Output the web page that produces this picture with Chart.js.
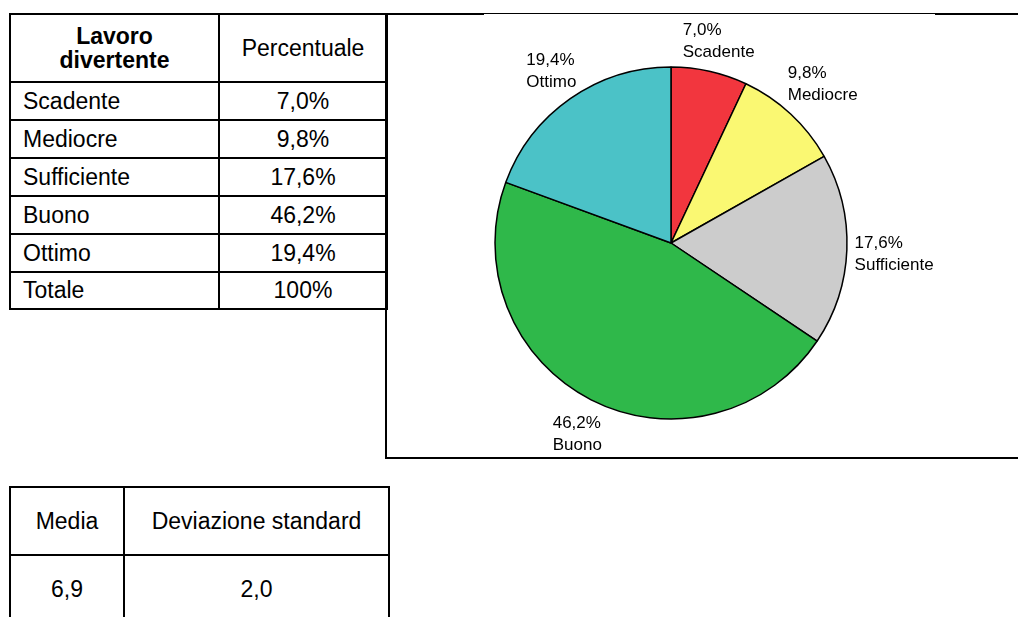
<!DOCTYPE html>
<html>
<head>
<meta charset="utf-8">
<script src="https://cdn.jsdelivr.net/npm/chart.js@4/dist/chart.umd.min.js"></script>
<style>
  html, body { margin: 0; padding: 0; background: #fff; }
  body { width: 1018px; height: 617px; position: relative; overflow: hidden;
         font-family: "Liberation Sans", Arial, sans-serif; color: #000; }
  table { position: absolute; border-collapse: collapse; table-layout: fixed; font-size: 23px; }
  td { border: 2px solid #000; padding: 0; vertical-align: middle; }
  #freqTable { left: 9px; top: 13px; width: 377px; }
  #freqTable td.lbl { padding-left: 12px; text-align: left; }
  #freqTable td.val { text-align: center; }
  #freqTable tr.head td { text-align: center; line-height: 24px; }
  #freqTable tr.head td b { font-weight: bold; }
  #statTable { left: 9px; top: 486px; width: 379px; }
  #statTable td { text-align: center; }
  .line { position: absolute; background: #000; }
  #chartBox { position: absolute; left: 386px; top: 14px; width: 632px; height: 444px; }
  #pie { display: block; width: 632px; height: 444px; }
</style>
</head>
<body>
<table id="freqTable">
  <colgroup><col style="width:209px"><col style="width:168px"></colgroup>
  <tbody id="freqBody"></tbody>
</table>

<table id="statTable">
  <colgroup><col style="width:114px"><col style="width:265px"></colgroup>
  <tbody id="statBody"></tbody>
</table>

<!-- frame round the pie -->
<div class="line" style="left:385px; top:13px; width:2px; height:446px;"></div>
<div class="line" style="left:385px; top:457px; width:633px; height:2px;"></div>
<div class="line" style="left:385px; top:13px; width:99px; height:2px;"></div>
<div class="line" style="left:484px; top:13px; width:451px; height:1px;"></div>
<div class="line" style="left:935px; top:13px; width:83px; height:2px;"></div>

<div id="chartBox"><canvas id="pie" width="632" height="444"></canvas></div>

<script>
// data
const categories = ['Scadente', 'Mediocre', 'Sufficiente', 'Buono', 'Ottimo'];
const percentages = [7.0, 9.8, 17.6, 46.2, 19.4];
const sliceColors = ['#F2363E', '#FAF872', '#CCCCCC', '#2FB84A', '#4BC2C7'];
const headerLabels = ['Lavoro<br>divertente', 'Percentuale'];
const totalLabel = 'Totale';
const totalValue = '100%';
const statLabels = ['Media', 'Deviazione standard'];
const statValues = ['6,9', '2,0'];

const fmtPct = v => v.toFixed(1).replace('.', ',') + '%';

// tables
const freqBody = document.getElementById('freqBody');
let html = '<tr class="head" style="height:68px"><td><b>' + headerLabels[0] + '</b></td><td>' + headerLabels[1] + '</td></tr>';
categories.forEach((c, i) => {
    html += '<tr style="height:38px"><td class="lbl">' + c + '</td><td class="val">' + fmtPct(percentages[i]) + '</td></tr>';
});
html += '<tr style="height:37px"><td class="lbl">' + totalLabel + '</td><td class="val">' + totalValue + '</td></tr>';
freqBody.innerHTML = html;

const statBody = document.getElementById('statBody');
statBody.innerHTML =
    '<tr style="height:68px">' + statLabels.map(s => '<td>' + s + '</td>').join('') + '</tr>' +
    '<tr style="height:68px">' + statValues.map(s => '<td>' + s + '</td>').join('') + '</tr>';

// outside labels: percent on first line, category on second, left aligned block
const outsideLabels = {
    id: 'outsideLabels',
    afterDatasetsDraw(chart) {
        const ctx = chart.ctx;
        const meta = chart.getDatasetMeta(0);
        const lineH = 22;
        ctx.save();
        ctx.font = '17px "Liberation Sans", Arial, sans-serif';
        ctx.fillStyle = '#000';
        ctx.textAlign = 'left';
        ctx.textBaseline = 'middle';
        meta.data.forEach((arc, i) => {
            const p = arc.getProps(['x', 'y', 'startAngle', 'endAngle', 'outerRadius'], true);
            const mid = (p.startAngle + p.endAngle) / 2;
            const ux = Math.cos(mid), uy = Math.sin(mid);
            const lines = [fmtPct(percentages[i]), categories[i]];
            const w = Math.max(...lines.map(t => ctx.measureText(t).width));
            const h = 42;
            const dist = p.outerRadius + 5 + Math.abs(ux) * w / 2 + Math.abs(uy) * h / 2;
            const cx = p.x + ux * dist + 2;
            const cy = p.y + uy * dist + 3;
            ctx.fillText(lines[0], cx - w / 2, cy - lineH / 2);
            ctx.fillText(lines[1], cx - w / 2, cy + lineH / 2);
        });
        ctx.restore();
    }
};

new Chart(document.getElementById('pie'), {
    type: 'pie',
    data: {
        labels: categories,
        datasets: [{
            data: percentages,
            backgroundColor: sliceColors,
            borderColor: '#000',
            borderWidth: 1.5,
            hoverOffset: 0,
            radius: 176
        }]
    },
    options: {
        responsive: false,
        animation: false,
        maintainAspectRatio: false,
        layout: { padding: { left: 0, right: 62, top: 14, bottom: 0 } },
        plugins: {
            legend: { display: false },
            tooltip: { enabled: false }
        }
    },
    plugins: [outsideLabels]
});
</script>
</body>
</html>
